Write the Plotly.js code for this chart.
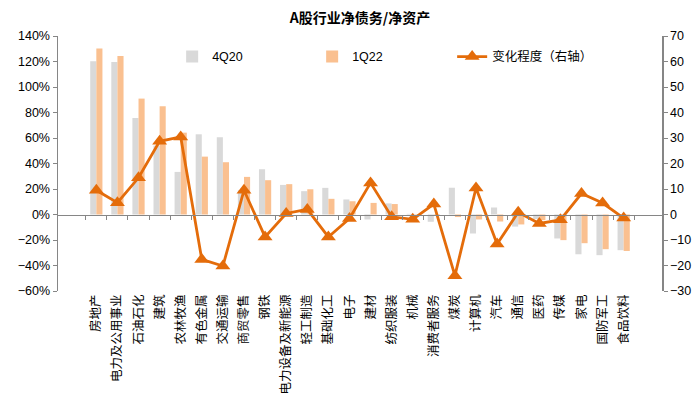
<!DOCTYPE html>
<html>
<head>
<meta charset="utf-8">
<script src="https://cdn.plot.ly/plotly-3.0.1.min.js"></script>
<style>html,body{margin:0;padding:0;background:#fff;}#chart{width:700px;height:411px;}</style>
</head>
<body>
<div id="chart"></div>
<script>
const categories = ["房地产","电力及公用事业","石油石化","建筑","农林牧渔","有色金属","交通运输","商贸零售","钢铁","电力设备及新能源","轻工制造","基础化工","电子","建材","纺织服装","机械","消费者服务","煤炭","计算机","汽车","通信","医药","传媒","家电","国防军工","食品饮料"];
const q420 = [120.1,119.6,75.7,54,33.4,62.9,60.6,19,35.5,23.2,18.3,20.9,11.8,-3.9,8.7,0.5,-5.7,21,-14.9,5.5,-9.5,-3.5,-18.8,-31.2,-31.9,-28];
const q122 = [130.2,124.3,90.9,84.9,64.2,45.4,41.0,29.5,26.9,23.8,19.8,12.3,10.4,9.1,8.2,0.3,-0.5,-2,-3.9,-5.5,-7.8,-4.4,-20.1,-22.5,-27.2,-28.6];
const change = [9.5,4.6,14.4,28.7,30.4,-17.6,-20.2,9.5,-8.8,0.4,2.0,-8.8,-1.6,12.4,-0.9,-1.9,4.1,-24,10.4,-11.6,0.9,-3.5,-2.1,8.2,4.5,-1.4];
const seriesNames = ["4Q20","1Q22","变化程度（右轴）"];

const FONT = "Liberation Sans, Arial, Noto Sans CJK SC, sans-serif";
const AXC = "#868686";

const traces = [
  {type:"bar", name:seriesNames[0], x:categories, y:q420, marker:{color:"#D9D9D9"}, xaxis:"x", yaxis:"y"},
  {type:"bar", name:seriesNames[1], x:categories, y:q122, marker:{color:"#FAC090"}, xaxis:"x", yaxis:"y"},
  {type:"scatter", mode:"lines+markers", name:seriesNames[2], x:categories, y:change,
   line:{color:"#E46C0A", width:2.8}, marker:{symbol:"triangle-up", size:13, color:"#E46C0A"},
   xaxis:"x2", yaxis:"y2"}
];

const layout = {
  width:700, height:411,
  margin:{l:58, r:38, t:36, b:120},
  paper_bgcolor:"#fff", plot_bgcolor:"#fff",
  font:{family:FONT, size:12, color:"#000"},
  title:{text:"<b>A股行业净债务/净资产</b>", font:{family:"Noto Sans CJK SC, sans-serif", size:14, color:"#000"},
         x:0.5, xref:"paper", y:0.956, yref:"container", yanchor:"middle"},
  barmode:"group", bargap:0.42, bargroupgap:0,
  showlegend:true,
  legend:{orientation:"h", xref:"paper", x:0.189, xanchor:"left", yref:"paper", y:0.918, yanchor:"middle",
          entrywidth:95, entrywidthmode:"pixels", font:{family:FONT, size:12.5}, bgcolor:"rgba(0,0,0,0)",
          traceorder:"normal", itemwidth:30},
  xaxis:{type:"category", showline:false, ticks:"", tickangle:-90, showgrid:false, zeroline:false,
         tickfont:{family:"Noto Sans CJK SC, sans-serif", size:12.5, color:"#000"}, fixedrange:true},
  xaxis2:{type:"category", overlaying:"x", matches:"x", anchor:"free", position:0.3, side:"bottom",
          showline:true, linecolor:AXC, linewidth:1.5, ticks:"outside", ticklen:4, tickcolor:AXC,
          tickson:"boundaries", showticklabels:false, showgrid:false, zeroline:false},
  yaxis:{range:[-60,140], dtick:20, ticksuffix:"%", showline:true, linecolor:AXC, linewidth:1.5,
         ticks:"outside", ticklen:4, tickcolor:AXC, showgrid:false, zeroline:false,
         tickfont:{family:FONT, size:12.5, color:"#000"}},
  yaxis2:{range:[-30,70], dtick:10, overlaying:"y", side:"right", showline:true, linecolor:AXC, linewidth:1.5,
          ticks:"outside", ticklen:4, tickcolor:AXC, showgrid:false, zeroline:false,
          tickfont:{family:FONT, size:12.5, color:"#000"}}
};

Plotly.newPlot("chart", traces, layout, {displayModeBar:false, staticPlot:true});
</script>
</body>
</html>
